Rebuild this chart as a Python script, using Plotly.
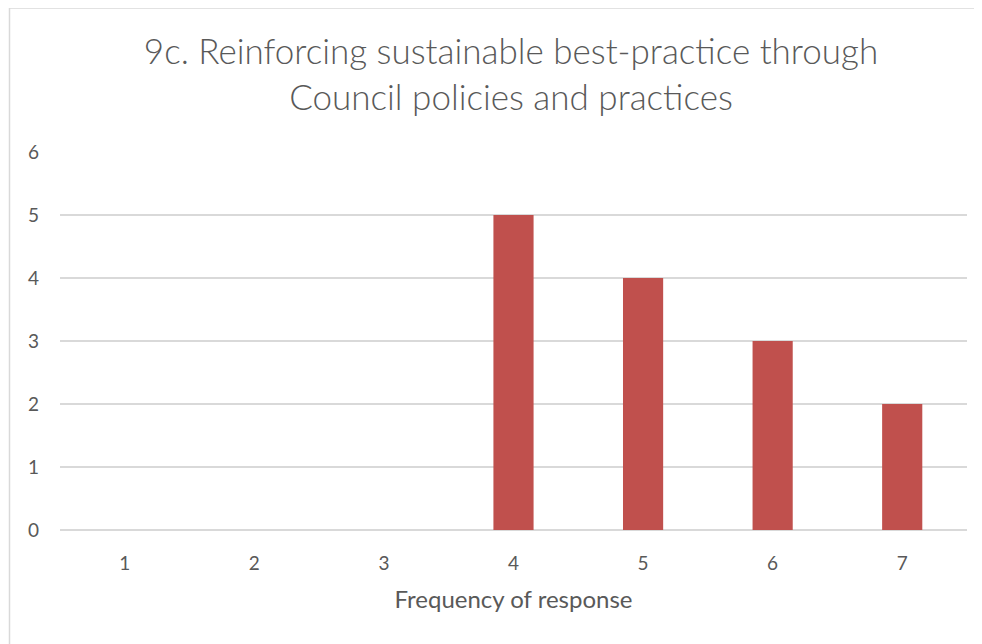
import plotly.graph_objects as go

# data
categories = ["1", "2", "3", "4", "5", "6", "7"]
counts = [0, 0, 0, 5, 4, 3, 2]

title_text = "9c. Reinforcing sustainable best-practice through<br>Council policies and practices"
x_title = "Frequency of response"

# the page body has an 8px margin, so the figure is a bit smaller than the window
OFF = 8
W, H = 982 - OFF, 644 - OFF
ML, MT = 60 - OFF, 152 - OFF
MR = W - (967 - OFF)
MB = H - (530 - OFF)
pw = W - ML - MR
ph = H - MT - MB


def px_x(x):
    # x in reference-window pixels -> paper
    return (x - OFF - ML) / pw


def px_y(y):
    return (H - MB - (y - OFF)) / ph


fig = go.Figure()
fig.add_trace(
    go.Bar(
        x=categories,
        y=counts,
        marker=dict(color="#C0504D", line=dict(width=0)),
        hoverinfo="x+y",
    )
)

# outer chart border (light gray)
fig.add_shape(
    type="rect", xref="paper", yref="paper",
    x0=px_x(9.5), x1=px_x(1000), y0=px_y(700), y1=px_y(8),
    line=dict(color="#D9D9D9", width=1.5), fillcolor="rgba(0,0,0,0)",
    layer="below",
)

fig.update_layout(
    width=W, height=H,
    margin=dict(l=ML, r=MR, t=MT, b=MB),
    paper_bgcolor="white",
    plot_bgcolor="white",
    font=dict(family="Lato, 'Open Sans', sans-serif", color="#595959"),
    title=dict(
        text=title_text,
        x=(511 - OFF) / W, xanchor="center",
        y=1 - (64 - OFF) / H, yanchor="middle",
        font=dict(size=35, color="#595959", weight=300),
    ),
    bargap=0.69,
    showlegend=False,
    xaxis=dict(
        type="category",
        title=dict(text=x_title, font=dict(size=24, color="#595959"), standoff=18),
        tickfont=dict(size=19, color="#595959"),
        showgrid=False, zeroline=False, showline=False,
        ticks="", ticklabelstandoff=20,
    ),
    yaxis=dict(
        range=[0, 6],
        dtick=1,
        tickfont=dict(size=19, color="#595959"),
        showgrid=True, gridcolor="#D9D9D9", gridwidth=1.5,
        zeroline=True, zerolinecolor="#D9D9D9", zerolinewidth=1.5,
        showline=False, ticks="", ticklabelstandoff=20,
    ),
)

fig.write_html("out.html")
